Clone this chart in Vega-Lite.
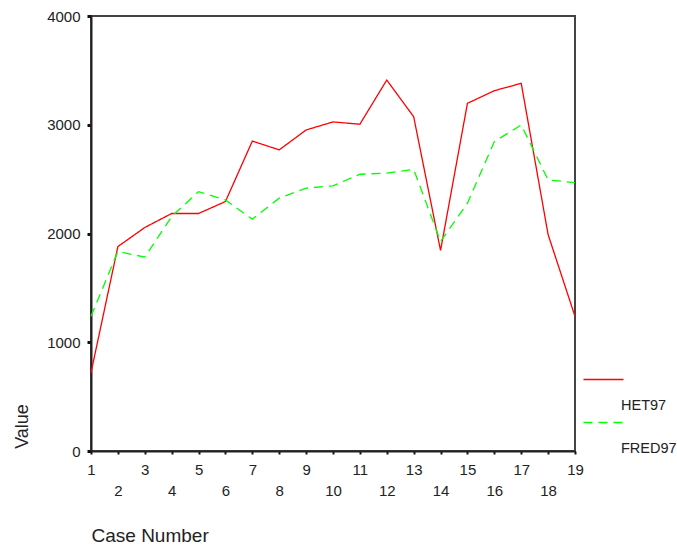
{
  "$schema": "https://vega.github.io/schema/vega-lite/v6.json",
  "width": 484,
  "height": 435,
  "autosize": "none",
  "padding": {"left": 91, "top": 16, "right": 102, "bottom": 95},
  "background": "white",
  "config": {
    "font": "Liberation Sans",
    "view": {"stroke": "#444", "strokeWidth": 2},
    "axis": {"grid": false, "labelColor": "#222", "titleColor": "#222", "domainColor": "#222", "domainWidth": 2, "tickColor": "#111", "labelFont": "Liberation Sans", "titleFont": "Liberation Sans", "titleFontWeight": "normal"}
  },
  "data": {
    "values": [
      {"case": 1, "series": "HET97", "value": 720},
      {"case": 2, "series": "HET97", "value": 1880},
      {"case": 3, "series": "HET97", "value": 2055},
      {"case": 4, "series": "HET97", "value": 2184},
      {"case": 5, "series": "HET97", "value": 2184},
      {"case": 6, "series": "HET97", "value": 2294},
      {"case": 7, "series": "HET97", "value": 2850},
      {"case": 8, "series": "HET97", "value": 2769},
      {"case": 9, "series": "HET97", "value": 2952},
      {"case": 10, "series": "HET97", "value": 3026},
      {"case": 11, "series": "HET97", "value": 3005},
      {"case": 12, "series": "HET97", "value": 3411},
      {"case": 13, "series": "HET97", "value": 3074},
      {"case": 14, "series": "HET97", "value": 1844},
      {"case": 15, "series": "HET97", "value": 3197},
      {"case": 16, "series": "HET97", "value": 3313},
      {"case": 17, "series": "HET97", "value": 3381},
      {"case": 18, "series": "HET97", "value": 1990},
      {"case": 19, "series": "HET97", "value": 1238},
      {"case": 1, "series": "FRED97", "value": 1238},
      {"case": 2, "series": "FRED97", "value": 1835},
      {"case": 3, "series": "FRED97", "value": 1783},
      {"case": 4, "series": "FRED97", "value": 2156},
      {"case": 5, "series": "FRED97", "value": 2385},
      {"case": 6, "series": "FRED97", "value": 2309},
      {"case": 7, "series": "FRED97", "value": 2132},
      {"case": 8, "series": "FRED97", "value": 2325},
      {"case": 9, "series": "FRED97", "value": 2417},
      {"case": 10, "series": "FRED97", "value": 2438},
      {"case": 11, "series": "FRED97", "value": 2545},
      {"case": 12, "series": "FRED97", "value": 2555},
      {"case": 13, "series": "FRED97", "value": 2590},
      {"case": 14, "series": "FRED97", "value": 1927},
      {"case": 15, "series": "FRED97", "value": 2279},
      {"case": 16, "series": "FRED97", "value": 2845},
      {"case": 17, "series": "FRED97", "value": 2998},
      {"case": 18, "series": "FRED97", "value": 2493},
      {"case": 19, "series": "FRED97", "value": 2468}
    ]
  },
  "mark": {"type": "line", "strokeWidth": 1.3},
  "encoding": {
    "x": {
      "field": "case",
      "type": "quantitative",
      "scale": {"domain": [1, 19], "nice": false, "zero": false},
      "axis": {
        "values": [1,2,3,4,5,6,7,8,9,10,11,12,13,14,15,16,17,18,19],
        "format": "d",
        "labelExpr": "datum.value % 2 == 0 ? ['', datum.label] : datum.label",
        "labelFontSize": 15,
        "labelLineHeight": 21,
        "labelBaseline": "top",
        "labelPadding": 8,
        "labelFlush": false,
        "labelOverlap": false,
        "tickSize": 3,
        "tickWidth": 2,
        "title": "Case Number",
        "titleFontSize": 19,
        "titleAnchor": "start",
        "titleAlign": "left",
        "titleBaseline": "middle",
        "titleX": 0,
        "titleY": 84
      }
    },
    "y": {
      "field": "value",
      "type": "quantitative",
      "scale": {"domain": [0, 4000], "nice": false},
      "axis": {
        "values": [0, 1000, 2000, 3000, 4000],
        "format": "d",
        "labelFontSize": 15,
        "labelPadding": 7,
        "tickSize": 4,
        "tickWidth": 3,
        "title": "Value",
        "titleFontSize": 18,
        "titleAngle": -90,
        "titleAlign": "center",
        "titleBaseline": "middle",
        "titleX": -69,
        "titleY": 410
      }
    },
    "color": {
      "field": "series",
      "type": "nominal",
      "scale": {"domain": ["HET97", "FRED97"], "range": ["#ff0000", "#00ff00"]},
      "legend": {
        "orient": "none",
        "legendX": 505,
        "legendY": 356,
        "title": null,
        "symbolType": "M-3,0H3",
        "symbolSize": 178,
        "symbolStrokeWidth": 1.5,
        "labelFontSize": 14.5,
        "labelColor": "#222",
        "labelOffset": 10,
        "rowPadding": 3,
        "encode": {"labels": {"update": {"dy": {"value": 26}}}}
      }
    },
    "strokeDash": {
      "field": "series",
      "type": "nominal",
      "scale": {"domain": ["HET97", "FRED97"], "range": [[1, 0], [9, 6]]},
      "legend": null
    }
  }
}
